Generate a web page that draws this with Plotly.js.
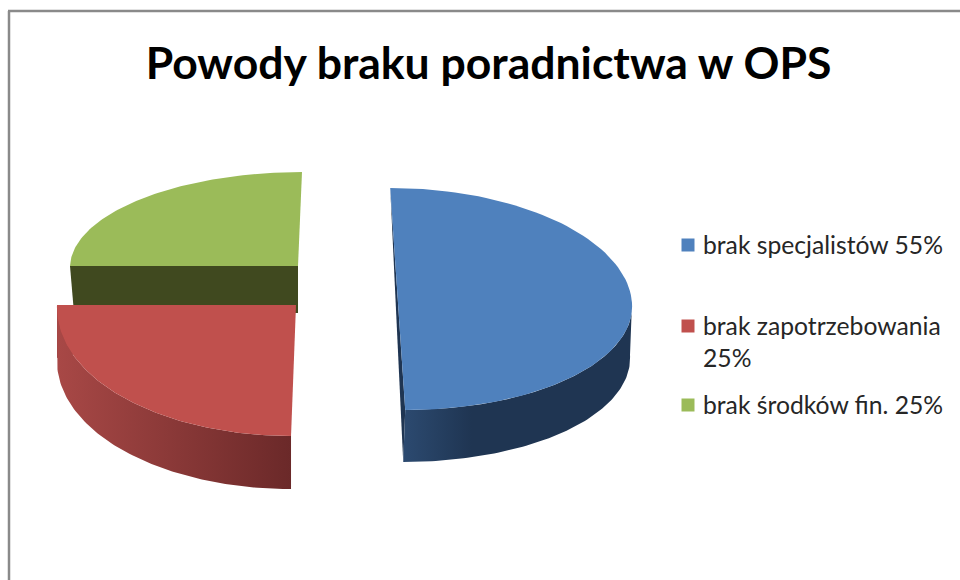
<!DOCTYPE html>
<html>
<head>
<meta charset="utf-8">
<script src="https://cdn.plot.ly/plotly-3.0.1.min.js"></script>
<style>html,body{margin:0;padding:0;background:#fff}#chart{width:960px;height:580px}</style>
</head>
<body>
<div id="chart"></div>
<script>
var chartTitle = 'Powody braku poradnictwa w OPS';
var categories = ['brak specjalistów 55%', 'brak zapotrzebowania<br>25%', 'brak środków fin. 25%'];
var sliceValues = [50, 25, 25];
var faceColors = ['#4F81BD', '#C0504D', '#9BBB59'];
var wallColors = ['#1F3552', '#9A4140', '#40491F'];
var sideStops = [
  [[0, '#2C4A70'], [0.3, '#1F3552'], [1, '#1F3552']],
  [[0, '#A84846'], [1, '#6B2929']],
  null
];
var apexX = [398, 296, 298];
var apexY = [303, 305, 266];
var radiusX = [234, 239, 228];
var radiusBack = [115, 131, 94];
var radiusFront = [107, 131, 94];
var shear = [0.0676, -0.038, -0.0426];
var depthX = [-2, 0, 4];
var depthY = [52, 53, 47];
var legendX = 688;
var legendTextX = 701;
var legendY = [245, 326, 405];
var lineStep = 32;

function point(i, deg) {
  var t = deg * Math.PI / 180, c = Math.cos(t), s = Math.sin(t);
  var dy = -c * (c > 0 ? radiusBack[i] : radiusFront[i]);
  return [apexX[i] + radiusX[i] * s + shear[i] * dy, apexY[i] + dy];
}
function arc(i, from, to) {
  var pts = [], n = 90;
  for (var k = 0; k <= n; k++) pts.push(point(i, from + (to - from) * k / n));
  return pts;
}
function poly(pts, color, grad) {
  var tr = {
    type: 'scatter', mode: 'lines', fill: 'toself', fillcolor: color,
    x: pts.map(function (p) { return p[0]; }),
    y: pts.map(function (p) { return p[1]; }),
    line: {width: 0, color: color}, hoverinfo: 'skip', showlegend: false
  };
  if (grad) tr.fillgradient = {type: 'horizontal', colorscale: grad};
  return tr;
}
var total = sliceValues.reduce(function (a, b) { return a + b; }, 0);
var starts = [], ends = [], acc = 0;
sliceValues.forEach(function (v) {
  starts.push(acc / total * 360);
  acc += v;
  ends.push(acc / total * 360);
});

var traces = [];
[2, 1, 0].forEach(function (i) {
  var dx = depthX[i], dy = depthY[i];
  var shift = function (p) { return [p[0] + dx, p[1] + dy]; };
  var a = point(i, starts[i]), b = point(i, ends[i]), o = [apexX[i], apexY[i]];
  if (i === 2) {
    traces.push(poly([a, o, [o[0], o[1] + dy], shift(a)], wallColors[i]));
  } else {
    traces.push(poly([i === 0 ? a : o, shift(b), b], wallColors[i]));
  }
  var from = Math.max(starts[i], 90), to = Math.min(ends[i], 270);
  if (to > from) {
    var outer = arc(i, from, to);
    traces.push(poly(outer.concat(outer.slice().reverse().map(shift)), wallColors[i], sideStops[i]));
  }
  var face = arc(i, starts[i], ends[i]);
  face.push(o);
  traces.push(poly(face, faceColors[i]));
});

traces.push({
  type: 'scatter', mode: 'markers', x: legendY.map(function () { return legendX; }), y: legendY,
  marker: {symbol: 'square', size: 13, color: faceColors, line: {width: 0}},
  hoverinfo: 'skip', showlegend: false
});

var annotations = [];
categories.forEach(function (c, i) {
  c.split('<br>').forEach(function (line, j) {
    annotations.push({
      xref: 'x', yref: 'y', x: legendTextX, y: legendY[i] - 1 + j * lineStep,
      text: line, showarrow: false, xanchor: 'left', yanchor: 'middle',
      font: {family: 'Lato, sans-serif', size: 24.7, color: '#262626'}
    });
  });
});

var layout = {
  width: 960, height: 580,
  margin: {l: 0, r: 0, t: 0, b: 0},
  paper_bgcolor: '#ffffff', plot_bgcolor: '#ffffff',
  showlegend: false,
  title: {
    text: '<b>' + chartTitle + '</b>', x: 488.5 / 960, xanchor: 'center', y: 1 - 63 / 580, yanchor: 'middle',
    font: {family: 'Lato, sans-serif', size: 44.5, color: '#000000'}
  },
  xaxis: {range: [0, 960], visible: false, fixedrange: true},
  yaxis: {range: [580, 0], visible: false, fixedrange: true},
  annotations: annotations,
  shapes: [
    {type: 'line', xref: 'x', yref: 'y', x0: 9, y0: 580, x1: 9, y1: 11, line: {color: '#8A8A8A', width: 2.5}},
    {type: 'line', xref: 'x', yref: 'y', x0: 8, y0: 11, x1: 960, y1: 11, line: {color: '#8A8A8A', width: 2.5}}
  ]
};
Plotly.newPlot('chart', traces, layout, {displayModeBar: false, staticPlot: true});
</script>
</body>
</html>
